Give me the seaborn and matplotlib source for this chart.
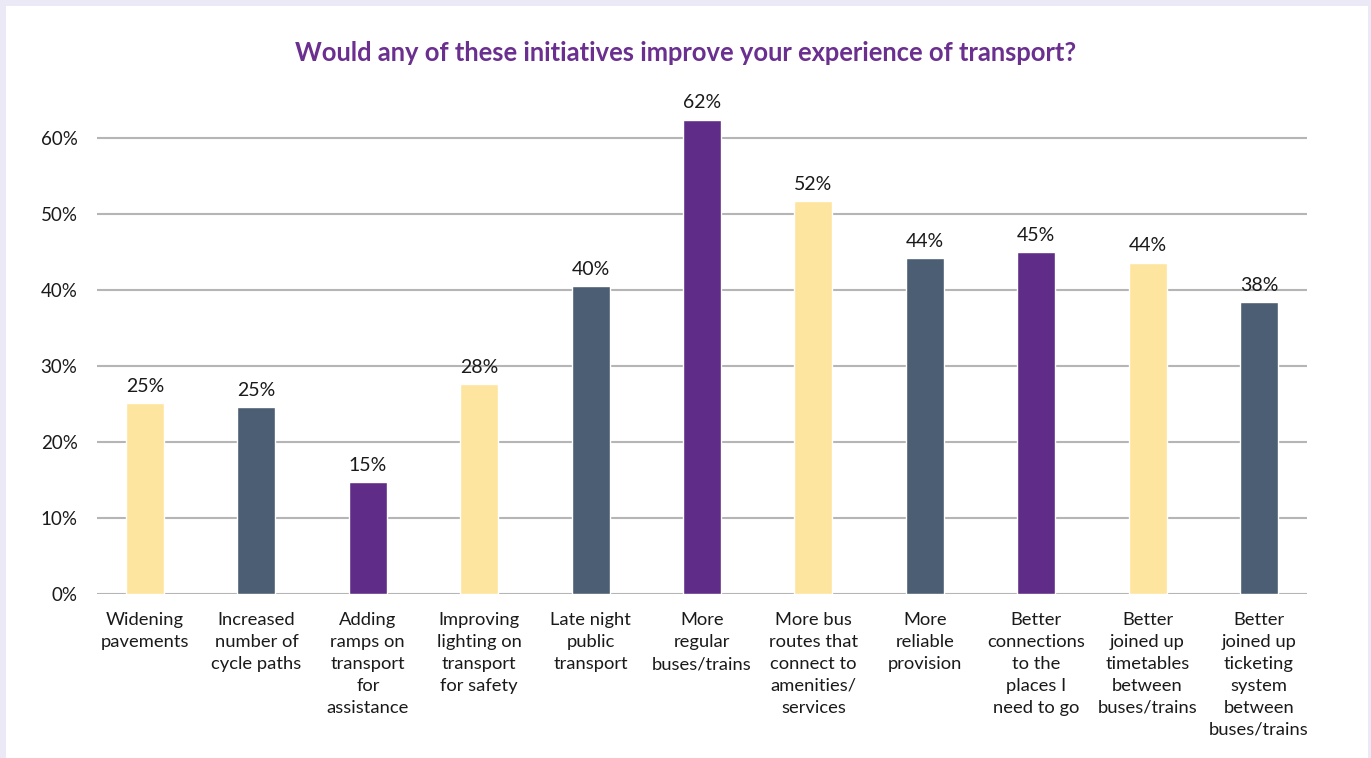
import matplotlib
matplotlib.use("Agg")
import matplotlib.pyplot as plt
import seaborn as sns
import pandas as pd
from matplotlib.patches import Rectangle
from matplotlib.ticker import FuncFormatter

categories = [
    "Widening\npavements",
    "Increased\nnumber of\ncycle paths",
    "Adding\nramps on\ntransport\nfor\nassistance",
    "Improving\nlighting on\ntransport\nfor safety",
    "Late night\npublic\ntransport",
    "More\nregular\nbuses/trains",
    "More bus\nroutes that\nconnect to\namenities/\nservices",
    "More\nreliable\nprovision",
    "Better\nconnections\nto the\nplaces I\nneed to go",
    "Better\njoined up\ntimetables\nbetween\nbuses/trains",
    "Better\njoined up\nticketing\nsystem\nbetween\nbuses/trains",
]
values = [25.1, 24.6, 14.7, 27.6, 40.5, 62.4, 51.7, 44.2, 45.0, 43.6, 38.4]
colors = ["#fee59f", "#4b5e73", "#5f2d87", "#fee59f", "#4b5e73", "#5f2d87",
          "#fee59f", "#4b5e73", "#5f2d87", "#fee59f", "#4b5e73"]
yticks = [0, 10, 20, 30, 40, 50, 60]
title = "Would any of these initiatives improve your experience of transport?"

sns.set_theme(style="white")
plt.rcParams["font.family"] = ["Lato", "DejaVu Sans"]

W, H = 1371, 758
fig = plt.figure(figsize=(W / 100, H / 100), dpi=100, facecolor="#ebe9f5")
fig.patches.append(Rectangle((6 / W, 0), (1368 - 6) / W, (H - 6) / H,
                             transform=fig.transFigure, facecolor="white",
                             edgecolor="none", zorder=-10))

ax = fig.add_axes([97 / W, 1 - 594 / H, (1307 - 97) / W, (594 - 100) / H])
ax.set_facecolor("none")

df = pd.DataFrame({"cat": categories, "val": values})
sns.barplot(data=df, x="cat", y="val", hue="cat", palette=colors,
            order=categories, hue_order=categories, legend=False,
            width=0.341, ax=ax, saturation=1, zorder=3)

for i, v in enumerate(values):
    ax.text(i, v + 1.1, f"{v:.0f}%", ha="center", va="bottom",
            fontsize=14, color="#1a1a1a")

ax.set_ylim(0, 65)
ax.set_xlim(-0.431, len(categories) - 1 + 0.431)
ax.set_yticks(yticks)
ax.yaxis.set_major_formatter(FuncFormatter(lambda v, p: f"{v:.0f}%"))
for t in yticks:
    ax.axhline(t, color="#b5b5b5", lw=1.5, zorder=1)
ax.tick_params(axis="y", length=0, pad=14, labelsize=13.5, labelcolor="#1a1a1a")
ax.tick_params(axis="x", length=0, pad=13, labelsize=13.2, labelcolor="#1a1a1a")
for s in ax.spines.values():
    s.set_visible(False)
ax.set_xlabel("")
ax.set_ylabel("")
for lab in ax.get_xticklabels():
    lab.set_linespacing(1.46)
    lab.set_va("top")

fig.text(686 / W, 1 - 53 / H, title, ha="center", va="center",
         fontsize=18.4, fontweight="bold", color="#6a2f8f")

fig.savefig("out.png", dpi=100, facecolor=fig.get_facecolor())
